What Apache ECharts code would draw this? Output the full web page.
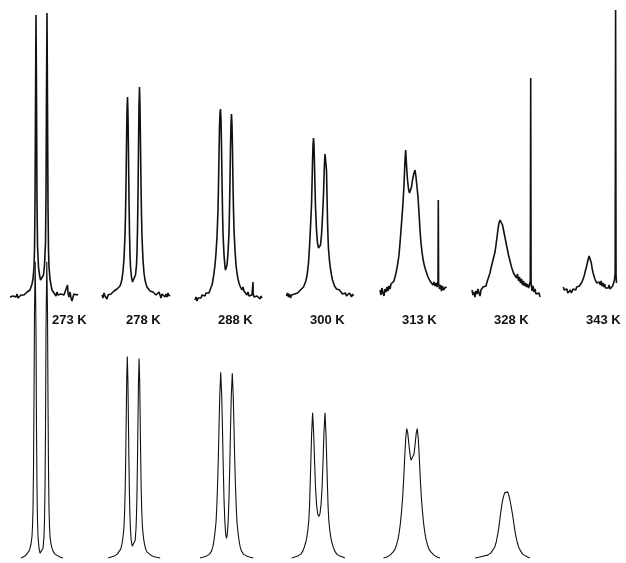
<!DOCTYPE html>
<html>
<head>
<meta charset="utf-8">
<script src="https://cdn.jsdelivr.net/npm/echarts@6/dist/echarts.min.js"></script>
<style>html,body{margin:0;padding:0;background:#fff}#c{width:626px;height:563px}</style>
</head>
<body>
<div id="c"></div>
<script>
// Temperature labels
const temps = ['273 K', '278 K', '288 K', '300 K', '313 K', '328 K', '343 K'];

// Experimental spectra (top row): [frequency offset, intensity]
const exp273 = [[-31.5,-2],[-30.5,0],[-29.5,-4],[-28.5,-1],[-27.5,-3],[-26.5,0],[-25.5,-2],[-24.5,1],[-23.5,-3],[-22.5,-1],[-21.5,-2],[-20.5,0],[-19.5,-1],[-18.5,1],[-17.5,0],[-16.5,2],[-15.5,1],[-14.5,3],[-13.5,2],[-12.5,4],[-11.5,5],[-10.5,8],[-9.5,11],[-8.5,16],[-7.5,28],[-7,45],[-6.5,90],[-6,190],[-5.5,280],[-5,200],[-4.5,95],[-4,50],[-3,28],[-2,20],[-1,15],[0,17],[1,14],[2,20],[3,30],[4,52],[4.5,100],[5,205],[5.5,282],[6,190],[6.5,90],[7,45],[7.5,28],[8.5,16],[9.5,10],[10.5,5],[11.5,7],[12.5,2],[13.5,4],[14.5,-1],[15.5,3],[16.5,0],[17.5,2],[18.5,-2],[19.5,1],[20.5,-1],[21.5,2],[22.5,0],[23.5,3],[24.5,1],[25.5,4],[26,10],[26.5,2],[27.5,-2],[28.5,3],[29.5,-3],[30.5,-6],[31.5,-2],[32.5,1],[33.5,-1],[34.5,2],[35.5,0],[36.5,1]];
const exp278 = [[-31.5,0],[-30.5,-3],[-29.5,2],[-28.5,-1],[-27.5,1],[-26.5,-4],[-25.5,0],[-24.5,2],[-23.5,-2],[-22.5,1],[-21.5,3],[-20.5,2],[-19.5,4],[-18.5,3],[-17.5,5],[-16.5,6],[-15.5,5],[-14.5,8],[-13.5,9],[-12.5,12],[-11.5,16],[-10.5,24],[-9.5,36],[-8.5,60],[-8,80],[-7.5,110],[-7,150],[-6.5,185],[-6,198],[-5.5,180],[-5,140],[-4.5,95],[-4,62],[-3.5,40],[-3,28],[-2,18],[-1,13],[0,11],[1,14],[2,20],[3,30],[3.5,42],[4,65],[4.5,100],[5,148],[5.5,190],[6,208],[6.5,188],[7,150],[7.5,110],[8,80],[8.5,58],[9.5,35],[10.5,22],[11.5,15],[12.5,11],[13.5,8],[14.5,6],[15.5,7],[16.5,4],[17.5,5],[18.5,2],[19.5,3],[20.5,1],[21.5,4],[22.5,0],[23.5,2],[24.5,-1],[25.5,3],[26.5,0],[27.5,-3],[28.5,1],[29.5,-1],[30.5,3],[31.5,-2],[32.5,1],[33.5,-2],[34.5,2],[35.5,-1],[36.5,0]];
const exp288 = [[-31,-5],[-30,-2],[-29,-6],[-28,-3],[-27,-4],[-26,-1],[-25,-3],[-24,0],[-23,-2],[-22,1],[-21,-1],[-20,2],[-19,1],[-18,3],[-17,2],[-16,5],[-15,7],[-14,10],[-13,15],[-12,22],[-11,30],[-10,42],[-9,58],[-8,85],[-7.5,110],[-7,140],[-6.5,168],[-6,182],[-5.5,186],[-5,175],[-4.5,150],[-4,115],[-3.5,85],[-3,62],[-2,40],[-1,28],[-0.5,25],[0,26],[1,30],[2,42],[3,62],[3.5,85],[4,115],[4.5,148],[5,172],[5.5,181],[6,170],[6.5,145],[7,110],[7.5,85],[8,65],[9,45],[10,30],[11,22],[12,16],[13,12],[14,9],[15,7],[16,5],[17,8],[18,4],[19,2],[20,5],[21,0],[22,3],[23,-1],[24,1],[25,-3],[26,0],[26.8,2],[27,13],[27.2,1],[28,-2],[29,0],[30,-4],[31,-1],[32,-3],[33,-2],[34,-4],[35,-1],[36,-3],[37,-2]];
const exp300 = [[-33,-1],[-32,2],[-31,-2],[-30,1],[-29,-3],[-28,0],[-27,2],[-26,-1],[-25,1],[-24,3],[-23,0],[-22,2],[-21,4],[-20,3],[-19,5],[-18,4],[-17,6],[-16,8],[-15,10],[-14,13],[-13,17],[-12,23],[-11,32],[-10,48],[-9,68],[-8,90],[-7.5,110],[-7,132],[-6.5,150],[-6,157],[-5.5,150],[-5,130],[-4.5,108],[-4,88],[-3,65],[-2,52],[-1,47],[0,46],[1,50],[2,60],[3,78],[4,100],[4.5,118],[5,132],[5.5,141],[6.2,143],[7,125],[7.5,100],[8,75],[8.5,58],[9,46],[10,34],[11,26],[12,20],[13,15],[14,12],[15,9],[16,8],[17,6],[18,7],[19,4],[20,5],[21,3],[22,4],[23,1],[24,3],[25,0],[26,2],[27,-1],[28,1],[29,-2],[30,2],[31,0],[32,-2],[33,1],[34,-1],[35,0]];
const exp313 = [[-30.5,5],[-29.5,0],[-28.5,7],[-27.5,2],[-26.5,-1],[-25.5,6],[-24.5,3],[-23.5,8],[-22.5,4],[-21.5,9],[-20.5,6],[-19.5,11],[-18.5,9],[-17.5,13],[-16.5,14],[-15.5,18],[-14.5,22],[-13.5,27],[-12.5,33],[-11.5,40],[-10.5,52],[-9.5,65],[-8.5,78],[-7.5,92],[-6.5,110],[-5.5,135],[-4.8,145],[-4,130],[-3,115],[-2,106],[-1,102],[0,104],[1,108],[2,115],[3,120],[4.5,125],[5.5,118],[6.5,108],[7.5,98],[8.5,82],[9.5,65],[10.5,52],[11.5,43],[12.5,36],[13.5,31],[14.5,27],[15.5,24],[16.5,21],[17.5,18],[18.5,16],[19.5,14],[20.5,12],[21.5,15],[22.5,10],[23.5,13],[24.5,9],[25.5,12],[26.5,8],[27.5,14],[27.8,95],[28.1,12],[29,6],[30,10],[31,4],[32,9],[33,5],[34,3],[35,8],[36,7]];
const exp328 = [[-33,5],[-32,0],[-31,3],[-30,-2],[-29,4],[-28,1],[-27,6],[-26,2],[-25,-1],[-24,5],[-23,3],[-22,8],[-21,6],[-20,10],[-19,9],[-18,13],[-17,16],[-16,19],[-15,22],[-14,27],[-13,31],[-12,35],[-11,39],[-10,43],[-9,50],[-8,58],[-7,66],[-6,72],[-5,75],[-4.3,76],[-3.5,74],[-2.5,70],[-1.5,65],[-0.5,60],[0.5,55],[1.5,50],[2.5,45],[3.5,40],[4.5,36],[5.5,32],[6.5,28],[7.5,25],[8.5,22],[9.5,20],[10.5,23],[11.5,17],[12.5,21],[13.5,14],[14.5,18],[15.5,12],[16.5,16],[17.5,10],[18.5,14],[19.5,9],[20.5,12],[21.5,8],[22.5,11],[23.5,7],[24.5,10],[25.3,14],[25.7,217],[26.1,12],[27,4],[28,9],[29,3],[30,6],[31,1],[32,3],[33,-1],[34,2],[35,-2]];
const exp343 = [[-33.5,8],[-32.5,5],[-31.5,7],[-30.5,3],[-29.5,6],[-28.5,2],[-27.5,4],[-26.5,3],[-25.5,5],[-24.5,2],[-23.5,3],[-22.5,6],[-21.5,4],[-20.5,7],[-19.5,5],[-18.5,8],[-17.5,6],[-16.5,8],[-15.5,9],[-14.5,10],[-13.5,11],[-12.5,13],[-11.5,15],[-10.5,18],[-9.5,21],[-8.5,25],[-7.5,28],[-6.5,32],[-5.5,36],[-4.5,39],[-3.7,41],[-3,37],[-2,32],[-1,26],[0,22],[1,19],[2,16],[3,14],[4,12],[5,14],[6,11],[7,13],[8,10],[9,14],[10,9],[11,12],[12,8],[13,11],[14,7],[15,9],[16,8],[17,7],[18,10],[19,6],[20,8],[21,7],[22,9],[23,11],[24,15],[24.8,22],[25.3,285],[25.8,20],[26.3,12]];

// Simulated spectra (bottom row)
const sim273 = [[-20,0],[-18,1],[-16,2],[-14,4],[-12,7],[-11,10],[-10,14],[-9,22],[-8.5,32],[-8,50],[-7.5,90],[-7,160],[-6.5,250],[-5.8,300],[-5,230],[-4.5,130],[-4,70],[-3.5,38],[-3,22],[-2,10],[-1,5],[0,4],[1,5],[2,10],[3,22],[3.5,38],[4,70],[4.5,130],[5,230],[5.8,300],[6.5,250],[7,160],[7.5,90],[8,50],[8.5,32],[9,22],[10,14],[11,10],[12,7],[14,4],[16,2],[19,1],[22,0]];
const sim278 = [[-25,0],[-22,1],[-19,2],[-16,4],[-14,6],[-12.5,9],[-11.5,13],[-10.5,19],[-9.5,28],[-9,36],[-8.5,50],[-8,70],[-7.5,100],[-7,140],[-6.5,180],[-5.9,204],[-5.3,180],[-4.8,140],[-4.3,100],[-3.8,66],[-3.3,44],[-2.8,30],[-2,18],[-1,12],[0,10],[1,12],[2,18],[2.8,30],[3.3,44],[3.8,66],[4.3,100],[4.8,140],[5.3,178],[5.9,202],[6.5,178],[7,140],[7.5,100],[8,70],[8.5,50],[9,36],[9.5,28],[10.5,19],[11.5,13],[12.5,9],[14,6],[16,4],[19,2],[22,1],[27,0]];
const sim288 = [[-26.5,0],[-23,1],[-20,2],[-17,4],[-15,7],[-13.5,12],[-12.5,18],[-11.5,26],[-10.5,36],[-9.8,50],[-9,72],[-8.2,100],[-7.5,132],[-6.8,162],[-5.8,188],[-4.8,165],[-4,130],[-3.3,95],[-2.5,60],[-1.7,38],[-0.8,24],[0,20],[0.8,24],[1.7,38],[2.5,60],[3.3,95],[4,130],[4.8,165],[5.8,187],[6.8,162],[7.5,132],[8.2,100],[9,72],[9.8,50],[10.5,36],[11.5,26],[12.5,18],[13.5,12],[15,7],[17,4],[20,2],[23,1],[26.8,0]];
const sim300 = [[-27,0],[-24,1],[-21,2],[-18,4],[-16,7],[-14.5,11],[-13,16],[-12,21],[-11,28],[-10,38],[-9.3,52],[-8.6,75],[-7.9,100],[-7.2,125],[-6.2,147],[-5.2,128],[-4.3,100],[-3.3,72],[-2.3,55],[-1.2,45],[0,42],[1.2,45],[2.3,55],[3.3,72],[4.3,100],[5.2,128],[6.2,147],[7.2,125],[7.9,100],[8.6,75],[9.3,52],[10,38],[11,28],[12,21],[13,16],[14.5,11],[16,7],[18,4],[21,2],[24,1],[26,0]];
const sim313 = [[-28.5,0],[-25,1],[-22,3],[-19,6],[-17,9],[-15.3,14],[-14,19],[-12.8,26],[-11.5,36],[-10.4,48],[-9.3,62],[-8.2,82],[-7.2,104],[-6.2,122],[-5.3,131],[-4.3,127],[-3.2,116],[-2,105],[-1,99],[0,97],[1,99],[2,105],[3.2,116],[4.3,127],[5.3,131],[6.2,122],[7.2,104],[8.2,82],[9.3,62],[10.4,48],[11.5,36],[12.8,26],[14,19],[15.3,14],[17,9],[19,6],[22,3],[25,1],[28,0]];
const sim328 = [[-31.5,0],[-27,1],[-23,2],[-19,3],[-16,5],[-14,7],[-12,11],[-10.5,16],[-9,24],[-8,30],[-7,38],[-6,46],[-5,53],[-4,59],[-3,63],[-2,66],[-1,68],[0,68],[1,67],[2,64],[3,60],[4,55],[5,49],[6,43],[7,36],[8,29],[9,23],[10.5,16],[12,11],[14,7],[16,4],[19,2],[23,0]];

const expSpectra = [exp273, exp278, exp288, exp300, exp313, exp328, exp343];
const simSpectra = [sim273, sim278, sim288, sim300, sim313, sim328];

// layout (pixel centres of each panel)
const topCenters = [41.5, 133.5, 226, 319.5, 410.5, 505, 597];
const botCenters = [41, 133.2, 226.5, 318.8, 412, 506.7];
const labelCenters = [72, 146, 238, 330, 422, 514, 606];

const grids = [], xAxes = [], yAxes = [], series = [];
function addPanel(cx, top, height, ymin, ymax, data, lw) {
  const i = grids.length;
  grids.push({left: cx - 35, top: top, width: 72, height: height});
  xAxes.push({type: 'value', gridIndex: i, min: -35, max: 37, show: false});
  yAxes.push({type: 'value', gridIndex: i, min: ymin, max: ymax, show: false});
  series.push({type: 'line', xAxisIndex: i, yAxisIndex: i, data: data, showSymbol: false,
    clip: false, silent: true, animation: false,
    lineStyle: {color: '#111', width: lw}});
}
expSpectra.forEach((d, k) => addPanel(topCenters[k], 5, 300, -10, 290, d, 1.6));
simSpectra.forEach((d, k) => addPanel(botCenters[k], 321, 245, -5, 240, d, 1.1));

const chart = echarts.init(document.getElementById('c'), null, {renderer: 'canvas'});
chart.setOption({
  animation: false,
  backgroundColor: '#fff',
  grid: grids, xAxis: xAxes, yAxis: yAxes, series: series,
  graphic: temps.map((t, k) => ({
    type: 'text', left: labelCenters[k] - 20, top: 314,
    style: {text: t, font: 'bold 13px "Liberation Sans", Arial, sans-serif', fill: '#111'}
  }))
});
</script>
</body>
</html>
